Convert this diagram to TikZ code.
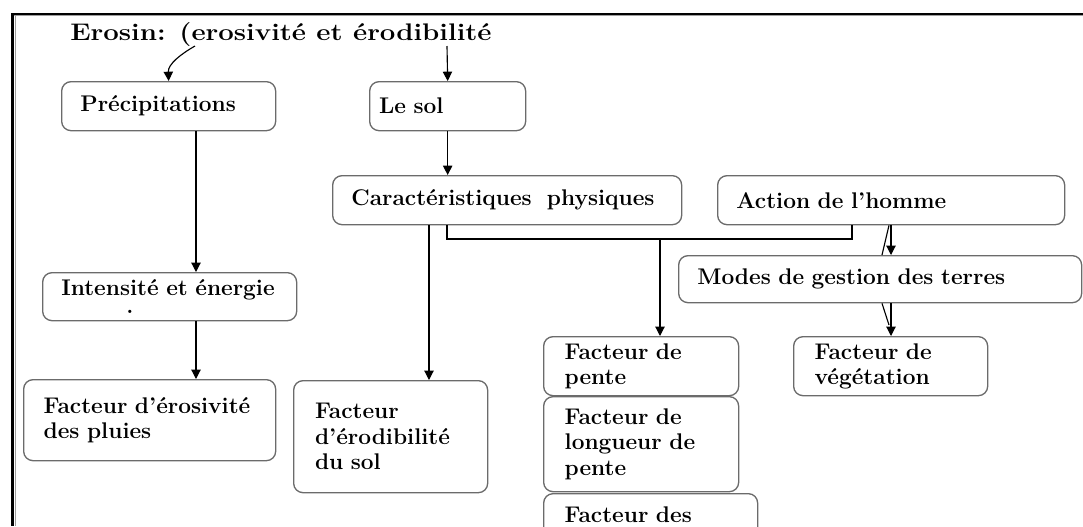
\documentclass[tikz,border=0pt]{standalone}
\usetikzlibrary{arrows.meta}
\definecolor{boxgray}{gray}{0.42}
\definecolor{framegray}{gray}{0.62}
\newcommand{\bxfont}{\fontsize{17}{19}\selectfont\bfseries}
\newcommand{\ttlfont}{\fontsize{18}{20}\selectfont\bfseries}
\begin{document}
\begin{tikzpicture}[x=0.75pt,y=-0.75pt,
  box/.style={draw=boxgray, line width=1pt, rounded corners=7pt, anchor=north west,
    inner xsep=14pt, inner ysep=0pt, align=left, font=\bxfont},
  conn/.style={draw=black, line width=0.85pt},
  arr/.style={conn, -{Triangle[length=7pt,width=7pt]}}]
\useasboundingbox (0,0) rectangle (1083,526);
\clip (0,0) rectangle (1083,526);
% frame
\draw[framegray, line width=0.9pt] (14,15.5) -- (1083,15.5);
\draw[framegray, line width=0.9pt] (15.2,15) -- (15.2,526);
\draw[black, line width=1.5pt] (11,13.6) -- (1083,13.6);
\draw[black, line width=2.25pt] (12.5,13) -- (12.5,526);
% title
\node[anchor=base west, inner sep=0pt, font=\ttlfont, xscale=1.15] (title) at (70,40) {Erosin: (erosivité et érodibilité};
% boxes
\node[box, minimum width=160.5pt, minimum height=36.75pt, text width=132.5pt] (prec) at (61,81) {Précipitations};
\node[box, inner xsep=7pt, minimum width=117pt, minimum height=36.75pt, text width=103pt] (sol) at (369,81) {Le~sol};
\node[box, minimum width=261.75pt, minimum height=36.75pt, text width=233.75pt] (carac) at (332,175) {Caractéristiques~~physiques};
\node[box, minimum width=260.25pt, minimum height=36.75pt, text width=232.25pt] (action) at (717,175) {Action~de~l’homme};
\node[box, minimum width=302.25pt, minimum height=35.25pt, text width=274.25pt] (modes) at (678,255) {Modes~de~gestion~des~terres};
\node[box, minimum width=190.5pt, minimum height=36pt, text width=162.5pt] (intens) at (42,272) {Intensité~et~énergie\\[-6pt]\hspace*{48.75pt}.};
\node[box, inner xsep=15pt, minimum width=189pt, minimum height=60.75pt, text width=159pt] (erosiv) at (23,379) {Facteur~d’érosivité\\des~pluies};
\node[box, inner xsep=16pt, minimum width=145.5pt, minimum height=84pt, text width=113.5pt] (erodib) at (293,380) {Facteur\\d’érodibilité\\du~sol};
\node[box, inner xsep=15.75pt, minimum width=146.25pt, minimum height=44.25pt, text width=114.75pt] (pente) at (543,336) {Facteur~de\\pente};
\node[box, inner xsep=15.75pt, minimum width=146.25pt, minimum height=71.25pt, text width=114.75pt] (longueur) at (543,396) {Facteur~de\\longueur~de\\pente};
\node[box, inner xsep=15.75pt, inner ysep=9.5pt, minimum width=160.5pt, text width=129pt, text depth=40pt] (des) at (543,493) {Facteur~des};
\node[box, inner xsep=15.75pt, minimum width=145.5pt, minimum height=44.25pt, text width=114pt] (veget) at (793,336) {Facteur~de\\végétation};
% helper coordinates
\coordinate (tA) at (195,46);
\coordinate (xP) at (196,0);
\coordinate (xS) at (447,0);
\coordinate (xE) at (429,0);
\coordinate (xF) at (660,0);
\coordinate (xM) at (891,0);
\coordinate (s1) at (889,0);
\coordinate (s2) at (882,0);
\coordinate (s3) at (889,325);
\coordinate (bR) at (852,239);
% connectors
\draw[arr] (tA) .. controls (181,54) and (168,64) .. (prec.north);
\draw[arr] (xS |- tA) -- (sol.north);
\draw[arr] (prec.south -| xP) -- (intens.north -| xP);
\draw[arr] (intens.south -| xP) -- (erosiv.north -| xP);
\draw[arr] (sol.south) -- (carac.north -| sol.south);
\draw[arr] (carac.south -| xE) -- (erodib.north -| xE);
\draw[conn] (carac.south -| xS) |- (bR) -- (action.south -| bR);
\draw[arr] (bR -| xF) -- (pente.north -| xF);
\draw[arr] (action.south -| xM) -- (modes.north -| xM);
\draw[conn] (action.south -| s1) -- (modes.north -| s2);
\draw[arr] (modes.south -| xM) -- (veget.north -| xM);
\draw[conn] (modes.south -| s2) -- (s3);
\end{tikzpicture}
\end{document}
